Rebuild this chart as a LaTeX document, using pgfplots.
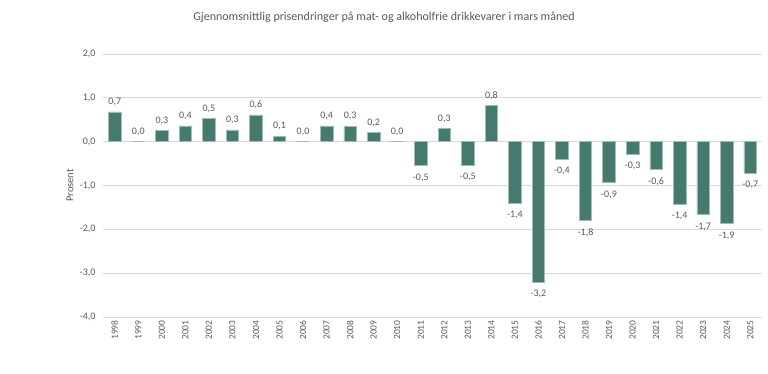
\documentclass[border=0pt]{standalone}
\usepackage{pgfplots}
\pgfplotsset{compat=1.18}
\usepackage{pgfplotstable}
\usepackage{fontspec}
\setmainfont{Carlito}
\definecolor{bar}{HTML}{467A6E}
\definecolor{baredge}{HTML}{9DBDB5}
\definecolor{txt}{HTML}{595959}
\definecolor{grd}{HTML}{D9D9D9}
\pgfplotstableread{
x y lab
0 0.68 0,7
1 0.00 0,0
2 0.25 0,3
3 0.36 0,4
4 0.53 0,5
5 0.27 0,3
6 0.61 0,6
7 0.12 0,1
8 0.00 0,0
9 0.36 0,4
10 0.35 0,3
11 0.21 0,2
12 0.00 0,0
14 0.30 0,3
16 0.82 0,8
}\pos
\pgfplotstableread{
x y lab
13 -0.55 -0,5
15 -0.53 -0,5
17 -1.40 -1,4
18 -3.20 -3,2
19 -0.40 -0,4
20 -1.79 -1,8
21 -0.93 -0,9
22 -0.28 -0,3
23 -0.64 -0,6
24 -1.43 -1,4
25 -1.66 -1,7
26 -1.87 -1,9
27 -0.72 -0,7
}\neg
\begin{document}
\begin{tikzpicture}[x=1pt,y=1pt]
\useasboundingbox (0,0) rectangle (768,373);
\node[font=\fontsize{12}{14}\selectfont, text=txt] at (384,356) {Gjennomsnittlig prisendringer på mat- og alkoholfrie drikkevarer i mars måned};
\begin{axis}[
  at={(103pt,56pt)}, anchor=south west,
  scale only axis, width=659pt, height=263pt,
  ymin=-4, ymax=2, ytick={-4,-3,...,2},
  xmin=-0.5, xmax=27.5,
  xtick={0,...,27},
  xticklabels={1998,1999,2000,2001,2002,2003,2004,2005,2006,2007,2008,2009,2010,2011,2012,2013,2014,2015,2016,2017,2018,2019,2020,2021,2022,2023,2024,2025},
  x tick label style={rotate=90, anchor=east, font=\fontsize{9.5}{10}\selectfont, text=txt, yshift=0pt},
  y tick label style={font=\fontsize{10}{11}\selectfont, text=txt, xshift=-4pt},
  /pgf/number format/assume math mode=true,
  yticklabel style={/pgf/number format/.cd, fixed, fixed zerofill, precision=1, use comma},
  axis line style={draw=none},
  major tick length=0pt,
  ymajorgrids, grid style={grd, line width=0.8pt},
  ylabel={Prosent},
  ylabel style={font=\fontsize{10.5}{12}\selectfont, text=txt, at={(axis description cs:-0.05,0.5)}, anchor=center},
  ybar, bar width=12.5pt,
  clip=false,
]
\addplot[fill=bar, draw=baredge, line width=0.6pt, bar shift=0pt,
  nodes near coords, point meta=explicit symbolic,
  every node near coord/.append style={font=\fontsize{10}{11}\selectfont, text=txt, anchor=south, yshift=2.5pt}]
  table[x=x, y=y, meta=lab] {\pos};
\addplot[fill=bar, draw=baredge, line width=0.6pt, bar shift=0pt,
  nodes near coords, point meta=explicit symbolic,
  every node near coord/.append style={font=\fontsize{10}{11}\selectfont, text=txt, anchor=north, yshift=-4.5pt}]
  table[x=x, y=y, meta=lab] {\neg};
\end{axis}
\end{tikzpicture}
\end{document}
